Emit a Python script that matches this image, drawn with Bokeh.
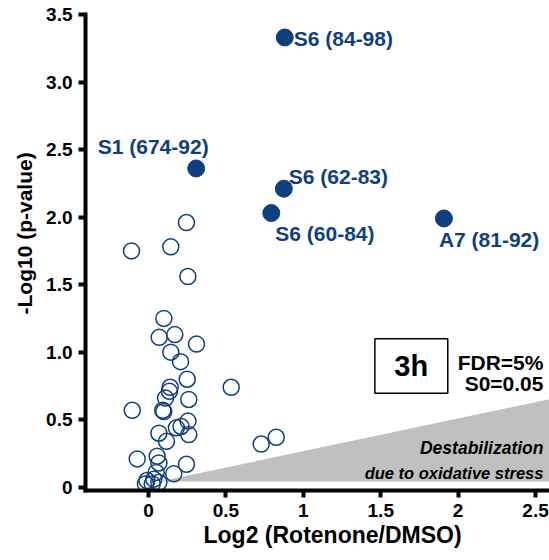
from bokeh.plotting import figure
from bokeh.models import ColumnDataSource, FixedTicker, Label, Range1d, Title
from bokeh.core.properties import value
from bokeh.embed import file_html
from bokeh.resources import INLINE

# Peptides without a significant change (open circles)
open_log2 = [0.245, -0.11, 0.144, 0.254, 0.099, 0.069, 0.17, 0.31, 0.144, 0.207,
             0.25, 0.534, 0.14, 0.135, 0.11, 0.26, -0.105, 0.092, 0.099, 0.255,
             0.21, 0.18, 0.26, 0.067, 0.116, 0.728, 0.825, -0.073, 0.056, 0.067,
             0.245, 0.05, 0.163, -0.01, 0.034, -0.02, 0.024, 0.067]
open_logp = [1.96, 1.75, 1.78, 1.56, 1.25, 1.11, 1.13, 1.06, 1.00, 0.93,
             0.80, 0.74, 0.74, 0.71, 0.66, 0.65, 0.57, 0.57, 0.56, 0.49,
             0.45, 0.44, 0.39, 0.40, 0.34, 0.32, 0.37, 0.21, 0.23, 0.18,
             0.17, 0.11, 0.10, 0.05, 0.06, 0.025, 0.025, 0.037]

# Significantly changed peptides (filled circles)
sig_names = ["S6 (84-98)", "S1 (674-92)", "S6 (62-83)", "S6 (60-84)", "A7 (81-92)"]
sig_log2 = [0.880, 0.308, 0.874, 0.793, 1.908]
sig_logp = [3.33, 2.36, 2.21, 2.03, 1.99]

x_ticks = [0, 0.5, 1, 1.5, 2, 2.5]
x_tick_labels = ["0", "0.5", "1", "1.5", "2", "2.5"]
y_ticks = [0, 0.5, 1.0, 1.5, 2.0, 2.5, 3.0, 3.5]
y_tick_labels = ["0", "0.5", "1.0", "1.5", "2.0", "2.5", "3.0", "3.5"]

# Shaded wedge marking the destabilization side
wedge_log2 = [0.07, 2.6, 2.6]
wedge_logp = [0.042, 0.655, 0.042]

BLUE = "#0f3f7f"
FONT = "Liberation Sans"

p = figure(width=549, height=560,
           x_range=Range1d(-0.407, 2.59), y_range=Range1d(-0.024, 3.5),
           output_backend="svg", toolbar_location=None,
           min_border_left=85, min_border_right=0,
           min_border_top=14, min_border_bottom=70)
p.outline_line_color = None
p.xgrid.visible = False
p.ygrid.visible = False
p.background_fill_color = "white"
p.border_fill_color = "white"

for ax in (p.xaxis[0], p.yaxis[0]):
    ax.axis_line_width = 4
    ax.axis_line_color = "black"
    ax.axis_line_cap = "square"
    ax.major_tick_line_width = 4
    ax.major_tick_line_color = "black"
    ax.major_tick_out = 7
    ax.major_tick_in = 0
    ax.minor_tick_line_color = None
    ax.major_label_text_font = FONT
    ax.major_label_text_font_style = "bold"
    ax.major_label_text_font_size = "19px"
    ax.major_label_text_color = "black"
    ax.major_label_standoff = 6

p.xaxis.ticker = FixedTicker(ticks=x_ticks)
p.xaxis.major_label_overrides = dict(zip(x_ticks, x_tick_labels))
p.yaxis.ticker = FixedTicker(ticks=y_ticks)
p.yaxis.major_label_overrides = dict(zip(y_ticks, y_tick_labels))

# axis titles as side-panel titles so they can sit off-centre
p.add_layout(Title(text="-Log10 (p-value)", align="left", offset=176,
                   vertical_align="top", standoff=12,
                   text_font=FONT, text_font_style="bold",
                   text_font_size="21px", text_color="black"), "left")
p.add_layout(Title(text="Log2 (Rotenone/DMSO)", align="left", offset=118,
                   vertical_align="top", standoff=4,
                   text_font=FONT, text_font_style="bold",
                   text_font_size="23px", text_color="black"), "below")

# grey wedge first, points on top
p.patch(wedge_log2, wedge_logp, fill_color="#c0c0c0", line_color=None)

p.scatter(open_log2, open_logp, size=16, marker="circle",
          fill_color=None, line_color=BLUE, line_width=1.5)

sig = ColumnDataSource(dict(
    x=sig_log2, y=sig_logp, name=sig_names,
    dx=[9, -43, 5, 4, -5],
    dy=[1, -22, -12, 20, 21],
    align=["left", "center", "left", "left", "left"],
))
p.scatter("x", "y", source=sig, size=17, marker="circle",
          fill_color=BLUE, line_color=BLUE)
p.text("x", "y", text="name", source=sig, x_offset="dx", y_offset="dy",
       text_align="align", text_baseline="middle",
       text_font=value(FONT), text_font_style="bold", text_font_size="21px",
       text_color=BLUE)


def note(x, y, text, size, align="right", baseline="alphabetic", style="bold"):
    p.add_layout(Label(x=x, y=y, text=text,
                       text_align=align, text_baseline=baseline,
                       text_font=FONT, text_font_style=style,
                       text_font_size=size, text_color="black"))


# condition box and thresholds
p.quad(left=[1.462], right=[1.933], bottom=[0.696], top=[1.099],
       fill_color=None, line_color="black", line_width=1.5)
note(1.697, 0.897, "3h", "29px", align="center", baseline="middle")
note(2.551, 0.926, "FDR=5%", "21px")
note(2.551, 0.768, "S0=0.05", "21px")
note(2.551, 0.287, "Destabilization", "17.5px", style="bold italic")
note(2.551, 0.109, "due to oxidative stress", "16.5px", style="bold italic")

open("out.html", "w").write(file_html(p, INLINE))
